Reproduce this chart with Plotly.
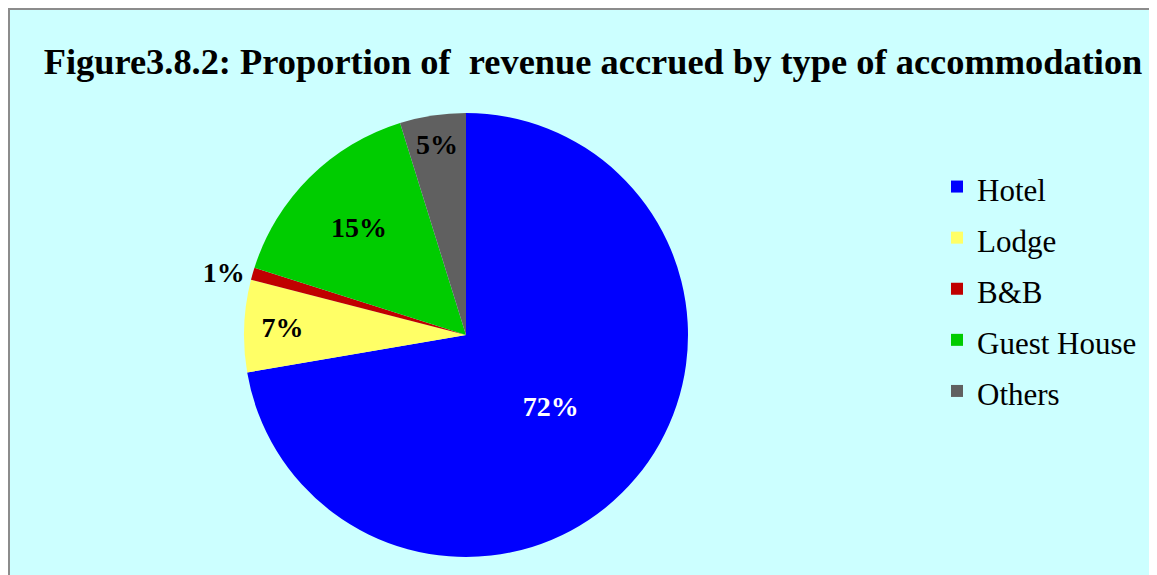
import plotly.graph_objects as go

categories = ["Hotel", "Lodge", "B&B", "Guest House", "Others"]
revenue_share = [72.3, 6.7, 0.9, 15.3, 4.8]
slice_colors = ["#0000FF", "#FFFF66", "#C00000", "#00CC00", "#606060"]
text_colors = ["#FFFFFF", "#000000", "#000000", "#000000", "#000000"]
text_positions = ["inside", "inside", "outside", "inside", "inside"]
title_text = "Figure3.8.2: Proportion of  revenue accrued by type of accommodation"

W, H = 1157, 575
FONT = "Liberation Serif"

legend_labels = ['<span style="font-size:31px">%s</span>' % c for c in categories]

fig = go.Figure(go.Pie(
    labels=legend_labels,
    values=revenue_share,
    sort=False,
    direction="clockwise",
    rotation=0,
    marker=dict(colors=slice_colors, line=dict(width=0)),
    texttemplate="%{percent:.0%}",
    textposition=text_positions,
    insidetextorientation="horizontal",
    textfont=dict(family=FONT, size=28, color=text_colors, weight="bold"),
    outsidetextfont=dict(family=FONT, size=28, color="#000000", weight="bold"),
    hoverinfo="label+percent",
    domain=dict(x=[236 / W, 680 / W], y=[26 / H, 470 / H]),
))

fig.update_layout(
    width=W, height=H,
    margin=dict(l=0, r=0, t=0, b=0),
    paper_bgcolor="#FFFFFF",
    plot_bgcolor="#CCFFFF",
    title=dict(text="<b>" + title_text + "</b>", x=585 / W, xanchor="center",
               y=(H - 53) / H, yanchor="middle",
               font=dict(family=FONT, size=36.4, color="#000000")),
    legend=dict(x=929 / W, xanchor="left", y=(H - 281) / H, yanchor="middle",
                font=dict(family=FONT, size=37, color="#000000"),
                bgcolor="rgba(0,0,0,0)", itemclick=False),
    shapes=[
        dict(type="rect", xref="paper", yref="paper", x0=1 / W, x1=1.01, y0=-0.01,
             y1=(H - 1) / H, fillcolor="#CCFFFF", line=dict(color="#8C8C8C", width=2),
             layer="below"),
    ],
)

fig.write_html("out.html")
